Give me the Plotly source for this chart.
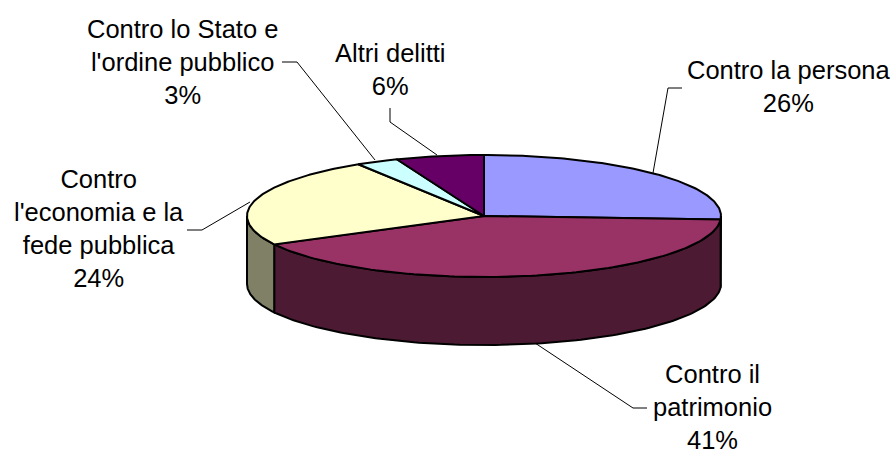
import numpy as np
import plotly.graph_objects as go

categories = ["Contro la persona", "Contro il patrimonio",
              "Contro l'economia e la fede pubblica",
              "Contro lo Stato e l'ordine pubblico", "Altri delitti"]
values = [25.9, 41.4, 23.8, 2.9, 6.0]
label_lines = [["Contro la persona", "26%"],
               ["Contro il", "patrimonio", "41%"],
               ["Contro", "l'economia e la", "fede pubblica", "24%"],
               ["Contro lo Stato e", "l'ordine pubblico", "3%"],
               ["Altri delitti", "6%"]]
top_colors = ["#9999FF", "#993366", "#FFFFCC", "#CCFFFF", "#660066"]
side_colors = ["#4C4C80", "#4C1A33", "#808066", "#668080", "#330033"]

CX, CY, RX, RY, DEPTH = 484, 216, 237, 61, 68
EDGE = "#000000"


def pt(t, dz=0.0):
    return CX + RX * np.sin(t), CY - RY * np.cos(t) + dz


fig = go.Figure()
fr = np.cumsum([0] + values) / sum(values) * 2 * np.pi

# sides (only the part of each slice's rim facing the viewer)
for i in range(len(values)):
    a, b = max(fr[i], np.pi / 2), min(fr[i + 1], 3 * np.pi / 2)
    if b <= a:
        continue
    t = np.linspace(a, b, 120)
    x1, y1 = pt(t)
    x2, y2 = pt(t[::-1], DEPTH)
    fig.add_trace(go.Scatter(x=np.r_[x1, x2, x1[0]], y=np.r_[y1, y2, y1[0]], mode="lines",
                             fill="toself", fillcolor=side_colors[i],
                             line=dict(color=EDGE, width=2)))
# tops
for i in range(len(values)):
    t = np.linspace(fr[i], fr[i + 1], 120)
    x, y = pt(t)
    fig.add_trace(go.Scatter(x=np.r_[CX, x, CX], y=np.r_[CY, y, CY], mode="lines",
                             fill="toself", fillcolor=top_colors[i],
                             line=dict(color=EDGE, width=2)))

# leader lines
leaders = [([653, 668, 682], [173, 88, 88]),
           ([535, 633, 647], [343, 408, 408]),
           ([250, 202, 187], [202, 230, 230]),
           ([375, 297, 282], [160, 62, 62]),
           ([437, 390, 390], [155, 122, 108])]
for lx, ly in leaders:
    fig.add_trace(go.Scatter(x=lx, y=ly, mode="lines", line=dict(color="#000000", width=1)))

# labels
anchors = [(789, 86), (712, 407), (99, 228), (182, 62), (390, 69)]
for (ax, ay), lines in zip(anchors, label_lines):
    fig.add_annotation(x=ax, y=ay, text="<br>".join(lines), showarrow=False,
                       xanchor="center", yanchor="middle", align="center",
                       font=dict(family="Liberation Sans, Arial, sans-serif", size=25.5, color="#000000"))

fig.update_layout(width=894, height=454, margin=dict(l=0, r=0, t=0, b=0),
                  paper_bgcolor="white", plot_bgcolor="white", showlegend=False,
                  xaxis=dict(range=[0, 894], visible=False, fixedrange=True),
                  yaxis=dict(range=[454, 0], visible=False, fixedrange=True))
fig.write_html("out.html", config={"displayModeBar": False},
               post_script="document.body.style.margin='0';document.body.style.overflow='hidden';")
